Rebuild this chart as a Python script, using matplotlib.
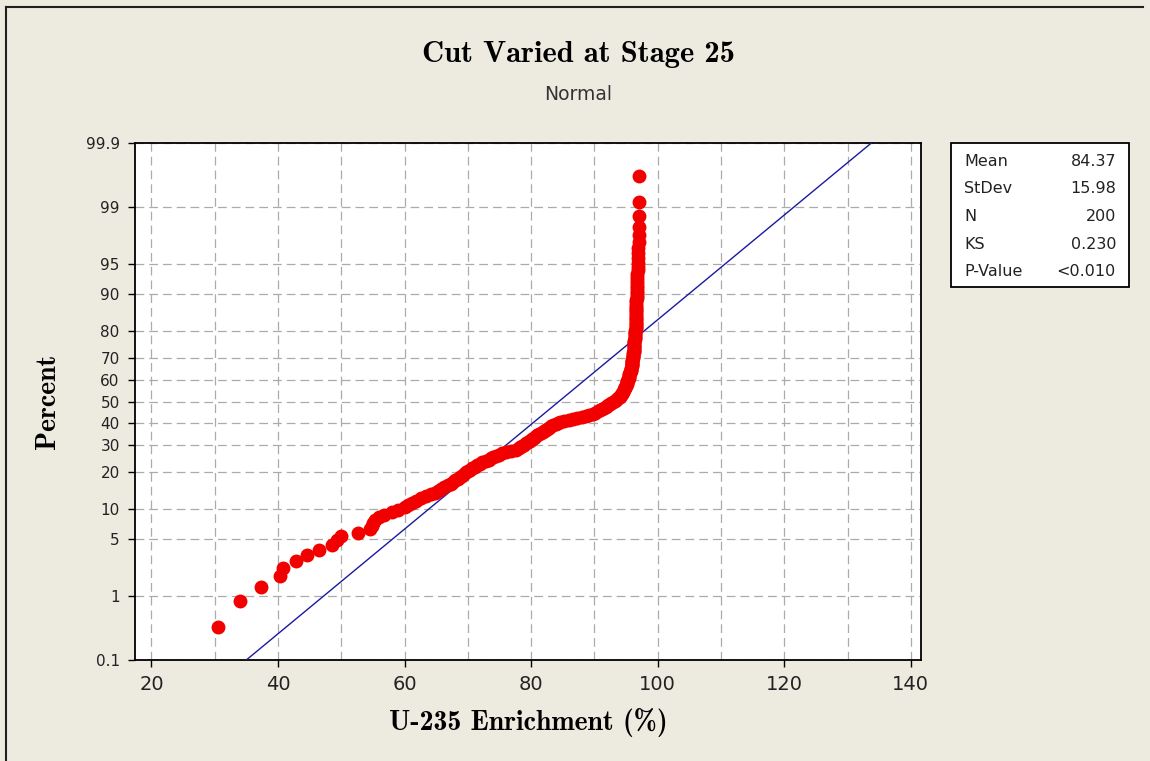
import numpy as np
import matplotlib
matplotlib.use("Agg")
import matplotlib.pyplot as plt
from matplotlib.lines import Line2D
from matplotlib.patches import Rectangle
from statistics import NormalDist

# sorted U-235 enrichment values (200 samples)
enrichment = [
    30.5, 34.0, 37.3, 40.3, 40.8, 42.9, 44.5, 46.4, 48.5, 49.3,
    49.9, 52.7, 54.5, 54.8, 55.0, 55.3, 56.0, 56.8, 58.0, 59.0,
    60.0, 60.6, 61.2, 61.8, 62.6, 63.4, 64.2, 64.8, 65.3, 65.8,
    66.3, 66.8, 67.3, 67.7, 68.0, 68.4, 68.8, 69.1, 69.4, 69.7,
    70.0, 70.3, 70.7, 71.1, 71.5, 71.9, 72.3, 72.8, 73.3, 73.7,
    74.0, 74.4, 74.9, 75.4, 76.0, 76.8, 77.6, 78.0, 78.3, 78.6,
    78.9, 79.2, 79.5, 79.8, 80.0, 80.2, 80.4, 80.6, 80.9, 81.2,
    81.5, 81.8, 82.1, 82.3, 82.5, 82.8, 83.1, 83.5, 83.9, 84.2,
    84.5, 85.2, 85.9, 86.6, 87.3, 88.1, 88.7, 89.2, 89.7, 90.1,
    90.5, 90.9, 91.2, 91.5, 91.8, 92.0, 92.2, 92.4, 92.6, 92.9,
    93.2, 93.4, 93.6, 93.8, 94.0, 94.1, 94.2, 94.3, 94.4, 94.5,
    94.6, 94.7, 94.8, 94.9, 95.0, 95.0, 95.1, 95.1, 95.2, 95.2,
    95.3, 95.3, 95.4, 95.4, 95.5, 95.5, 95.6, 95.6, 95.7, 95.7,
    95.8, 95.8, 95.9, 95.9, 95.9, 96.0, 96.0, 96.0, 96.0, 96.1,
    96.1, 96.1, 96.1, 96.1, 96.2, 96.2, 96.2, 96.2, 96.3, 96.3,
    96.3, 96.3, 96.3, 96.3, 96.4, 96.4, 96.4, 96.4, 96.4, 96.4,
    96.4, 96.5, 96.5, 96.5, 96.5, 96.5, 96.5, 96.5, 96.5, 96.5,
    96.5, 96.6, 96.6, 96.6, 96.6, 96.6, 96.6, 96.6, 96.7, 96.7,
    96.7, 96.7, 96.7, 96.8, 96.8, 96.8, 96.8, 96.8, 96.9, 96.9,
    96.9, 96.9, 96.9, 96.9, 97.0, 97.0, 97.0, 97.0, 97.0, 97.1,
]

mean = 84.37
stdev = 15.98
stat_names = ["Mean", "StDev", "N", "KS", "P-Value"]
stat_values = ["84.37", "15.98", "200", "0.230", "<0.010"]

pct_ticks = [0.1, 1, 5, 10, 20, 30, 40, 50, 60, 70, 80, 90, 95, 99, 99.9]
pct_labels = ["0.1", "1", "5", "10", "20", "30", "40", "50", "60", "70",
              "80", "90", "95", "99", "99.9"]

nd = NormalDist()
_inv = np.vectorize(lambda p: nd.inv_cdf(p), otypes=[float])
_cdf = np.vectorize(lambda z: nd.cdf(z), otypes=[float])


def pct_to_z(p):
    p = np.clip(np.asarray(p, dtype=float), 1e-6, 100 - 1e-6)
    return _inv(p / 100.0)


def z_to_pct(z):
    return 100.0 * _cdf(np.asarray(z, dtype=float))


n = len(enrichment)
rank = np.arange(1, n + 1)
pct = 100.0 * (rank - 0.3) / (n + 0.4)   # median ranks

bg = "#EDEAE0"
fig = plt.figure(figsize=(11.5, 7.61), dpi=100, facecolor=bg)
ax = fig.add_axes([135 / 1150, 101 / 761, 786 / 1150, 517 / 761])
ax.set_facecolor("white")
ax.set_yscale("function", functions=(pct_to_z, z_to_pct))

# fitted normal line
fit_pct = np.array([0.1, 99.9])
fit_x = mean + stdev * pct_to_z(fit_pct)
ax.plot(fit_x, fit_pct, color="#1a1aa0", lw=1.0, zorder=3)

ax.plot(enrichment, pct, "o", color="#f20000", ms=9, mec="#f20000",
        zorder=4, clip_on=False)

ax.set_xlim(17.4, 141.6)
ax.set_ylim(0.1, 99.9)
ax.set_xticks(range(20, 141, 20))
ax.set_xticks(range(30, 141, 20), minor=True)
ax.set_yticks(pct_ticks)
ax.set_yticklabels(pct_labels)
ax.yaxis.set_minor_locator(matplotlib.ticker.NullLocator())

grid_kw = dict(color="#ababab", ls=(0, (7, 4)), lw=0.9)
ax.grid(True, which="both", axis="x", **grid_kw)
ax.grid(True, which="major", axis="y", **grid_kw)
ax.set_axisbelow(True)

ax.tick_params(axis="x", which="major", length=5, width=1, pad=6,
               labelsize=14, labelcolor="#222222")
ax.tick_params(axis="x", which="minor", length=0)
ax.tick_params(axis="y", length=5, width=1, pad=6,
               labelsize=11, labelcolor="#222222")
for s in ax.spines.values():
    s.set_linewidth(1.3)
    s.set_color("black")

ax.set_xlabel("U-235 Enrichment (%)", family="cmb10", fontsize=20, labelpad=10)
ax.set_ylabel("Percent", family="cmb10", fontsize=20, labelpad=18)

fig.text(0.503, 1 - 55 / 761, "Cut Varied at Stage 25", family="cmb10",
         fontsize=22, ha="center", va="center")
fig.text(0.503, 1 - 95 / 761, "Normal", fontsize=13.5, color="#333333",
         ha="center", va="center")

# stats box
fig.add_artist(Rectangle((951 / 1150, 1 - 287 / 761), 178 / 1150, 144 / 761,
                         transform=fig.transFigure, facecolor="white",
                         edgecolor="black", lw=1.3))
for k, (nm, val) in enumerate(zip(stat_names, stat_values)):
    yy = 1 - (161 + 27.7 * k) / 761
    fig.text(964 / 1150, yy, nm, fontsize=11.5, color="#222222",
             ha="left", va="center")
    fig.text(1116 / 1150, yy, val, fontsize=11.5, color="#222222",
             ha="right", va="center")

# window frame (top and left edges)
fig.add_artist(Line2D([6 / 1150, 1143 / 1150], [1 - 7 / 761, 1 - 7 / 761],
                      transform=fig.transFigure, color="#202020", lw=1.5))
fig.add_artist(Line2D([6 / 1150, 6 / 1150], [0, 1 - 7 / 761],
                      transform=fig.transFigure, color="#202020", lw=1.5))

fig.savefig("out.png", dpi=100, facecolor=bg)
